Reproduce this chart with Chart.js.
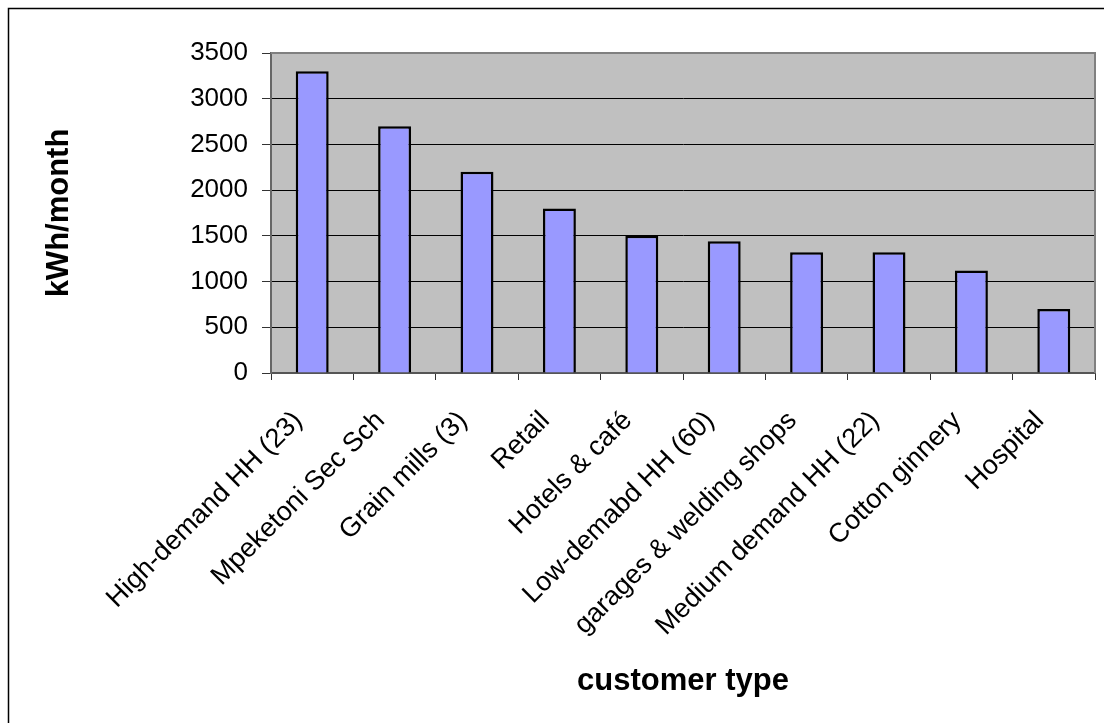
<!DOCTYPE html>
<html>
<head>
<meta charset="utf-8">
<script src="https://cdn.jsdelivr.net/npm/chart.js@4.4.0/dist/chart.umd.min.js"></script>
<style>
  html, body { margin: 0; padding: 0; background: #fff; }
  #wrap { width: 1104px; height: 723px; }
</style>
</head>
<body>
<div id="wrap"><canvas id="myChart" width="1104" height="723"></canvas></div>
<script>
// chart data
const categories = [
  "High-demand HH (23)",
  "Mpeketoni Sec Sch",
  "Grain mills (3)",
  "Retail",
  "Hotels & café",
  "Low-demabd HH (60)",
  "garages & welding shops",
  "Medium demand HH (22)",
  "Cotton ginnery",
  "Hospital"
];
const kwhPerMonth = [3300, 2700, 2200, 1800, 1500, 1440, 1320, 1320, 1120, 700];
const yTicks = [0, 500, 1000, 1500, 2000, 2500, 3000, 3500];
const yTitle = "kWh/month";
const xTitle = "customer type";

const FONT = "'Liberation Sans', Arial, sans-serif";

// grey plot background + outer frame
const framePlugin = {
  id: "frame",
  beforeDraw(chart) {
    let ctx = chart.ctx;
    let a = chart.chartArea;
    ctx.save();
    ctx.fillStyle = "#C0C0C0";
    ctx.fillRect(a.left, a.top, a.right - a.left, a.bottom - a.top);
    ctx.restore();
  },
  afterDraw(chart) {
    let ctx = chart.ctx;
    let a = chart.chartArea;
    ctx.save();
    // plot border top/right
    ctx.strokeStyle = "#808080";
    ctx.lineWidth = 2;
    ctx.beginPath();
    ctx.moveTo(a.left, a.top);
    ctx.lineTo(a.right, a.top);
    ctx.lineTo(a.right, a.bottom);
    ctx.stroke();
    // outer chart frame (only top and left show in the picture)
    ctx.strokeStyle = "#000";
    ctx.lineWidth = 1.5;
    ctx.beginPath();
    ctx.moveTo(1104, 8.5);
    ctx.lineTo(8.5, 8.5);
    ctx.lineTo(8.5, 723);
    ctx.stroke();
    ctx.restore();
  }
};

let ctx = document.getElementById("myChart").getContext("2d");

let myChart = new Chart(ctx, {
  type: "bar",
  data: {
    labels: categories,
    datasets: [{
      label: yTitle,
      data: kwhPerMonth,
      backgroundColor: "#9999FF",
      borderColor: "#000",
      borderWidth: 2.5,
      barPercentage: 0.4,
      categoryPercentage: 1
    }]
  },
  options: {
    responsive: false,
    animation: false,
    devicePixelRatio: 1,
    layout: { padding: { top: 53, right: 9, left: 0, bottom: 0 } },
    plugins: {
      legend: { display: false },
      tooltip: { enabled: false }
    },
    scales: {
      x: {
        grid: {
          offset: true,
          drawOnChartArea: false,
          drawTicks: true,
          tickLength: 7,
          color: "#333"
        },
        border: { color: "#555", width: 2 },
        ticks: {
          autoSkip: false,
          maxRotation: 45,
          minRotation: 45,
          padding: 25,
          labelOffset: -14,
          color: "#000",
          font: { family: FONT, size: 27 }
        },
        title: {
          display: true,
          text: xTitle,
          color: "#000",
          font: { family: FONT, size: 31, weight: "bold" },
          padding: { top: 0, bottom: 23 }
        },
        afterFit(scale) {
          scale.height = 350;
        }
      },
      y: {
        min: 0,
        max: 3500,
        afterBuildTicks(scale) {
          scale.ticks = yTicks.map(v => ({ value: v }));
        },
        grid: {
          color: "#000",
          lineWidth: 1,
          tickLength: 9,
          tickColor: "#333"
        },
        border: { color: "#666", width: 2 },
        ticks: {
          padding: 14,
          color: "#000",
          font: { family: FONT, size: 26 },
          callback: v => String(v) // no thousands separator
        },
        title: {
          display: true,
          text: yTitle,
          color: "#000",
          font: { family: FONT, size: 31, weight: "bold" },
          padding: { top: 41, bottom: 0 }
        },
        afterFit(scale) {
          scale.width = 271;
        }
      }
    }
  },
  plugins: [framePlugin]
});
</script>
</body>
</html>
